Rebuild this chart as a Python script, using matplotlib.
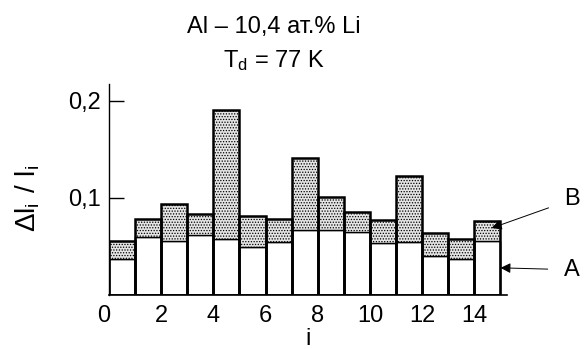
import matplotlib
matplotlib.use("Agg")
import matplotlib.pyplot as plt
import matplotlib.transforms as mtransforms
import numpy as np

plt.rcParams['font.family'] = ['Liberation Sans', 'DejaVu Sans']
plt.rcParams['mathtext.fontset'] = 'custom'
plt.rcParams['mathtext.rm'] = 'Liberation Sans'
plt.rcParams['mathtext.default'] = 'regular'
plt.rcParams['hatch.color'] = '#8a8a8a'
plt.rcParams['hatch.linewidth'] = 0.6

# data
i_pos = np.arange(15)
part_A = [0.0375, 0.0595, 0.0553, 0.0622, 0.0580, 0.0495, 0.0546, 0.0674,
          0.0674, 0.0646, 0.0533, 0.0546, 0.0402, 0.0375, 0.0557]
total_AB = [0.0553, 0.0787, 0.0942, 0.0832, 0.1910, 0.0814, 0.0784, 0.1412,
            0.1010, 0.0856, 0.0770, 0.1230, 0.0636, 0.0580, 0.0763]
part_B = [t - a for t, a in zip(total_AB, part_A)]
x_ticks = [0, 2, 4, 6, 8, 10, 12, 14]
y_ticks = [0.1, 0.2]
y_ticklabels = ['0,1', '0,2']

fig = plt.figure(figsize=(5.85, 3.49), dpi=100)
ax = fig.add_axes([109/585, 54/349, (507-109)/585, (295-84)/349])

ax.bar(i_pos, part_A, width=1.0, align='edge', color='white',
       edgecolor='black', linewidth=1.0, zorder=2)
ax.bar(i_pos, part_B, width=1.0, align='edge', bottom=part_A,
       color='#e4e4e4', hatch='......', edgecolor='black', linewidth=0, zorder=2)
# outlines of total bars
ax.bar(i_pos, total_AB, width=1.0, align='edge', fill=False,
       edgecolor='black', linewidth=1.8, zorder=3)
# dividing line between A and B
ax.bar(i_pos, part_A, width=1.0, align='edge', fill=False,
       edgecolor='black', linewidth=1.0, zorder=3)

ax.set_xlim(0, 15.25)
ax.set_ylim(0, 0.2175)
ax.spines['top'].set_visible(False)
ax.spines['right'].set_visible(False)
ax.spines['left'].set_linewidth(1.0)
ax.spines['bottom'].set_linewidth(1.2)

ax.set_xticks(x_ticks)
ax.set_xticklabels([str(v) for v in x_ticks], fontsize=17)
ax.set_yticks(y_ticks)
ax.set_yticklabels(y_ticklabels, fontsize=17)
ax.tick_params(axis='y', direction='in', length=11, width=1.0, pad=6)
ax.tick_params(axis='x', direction='in', length=0, pad=7)
# the "0" label sits slightly left of its position in the reference
lbl0 = ax.get_xticklabels()[0]
lbl0.set_transform(lbl0.get_transform() +
                   mtransforms.ScaledTranslation(-5/100, 0, fig.dpi_scale_trans))

ax.set_xlabel('i', fontsize=17, labelpad=1)
ax.set_ylabel(r'$\Delta l_i\ /\ l_i$', fontsize=20, ha='center', va='center')
ax.yaxis.set_label_coords(-0.2035, 0.46)

fig.text(274/585, 1 - 27/349, 'Al – 10,4 ат.% Li', fontsize=17,
         ha='center', va='center')
fig.text(274/585, 1 - 61/349, r'T$_d$ = 77 K', fontsize=17,
         ha='center', va='center')

# annotation arrows
ax.annotate('B', xy=(14.66, 0.069), xytext=(17.75, 0.0985),
            fontsize=17, ha='center', va='center', annotation_clip=False,
            arrowprops=dict(arrowstyle='-|>', color='black', lw=0.7,
                            shrinkA=10, shrinkB=0, mutation_scale=15))
ax.annotate('A', xy=(15.0, 0.028), xytext=(17.75, 0.026),
            fontsize=17, ha='center', va='center', annotation_clip=False,
            arrowprops=dict(arrowstyle='-|>', color='black', lw=0.7,
                            shrinkA=10, shrinkB=0, mutation_scale=15))

fig.savefig('out.png', dpi=100)
